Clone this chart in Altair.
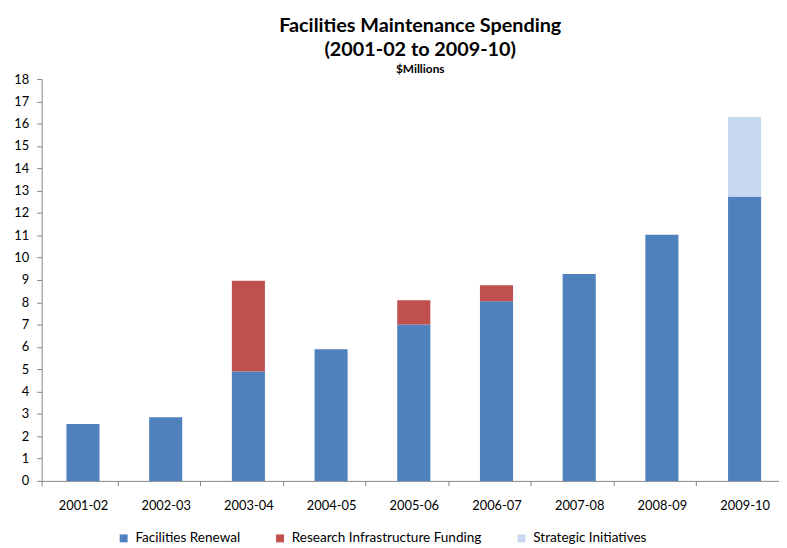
import altair as alt
import pandas as pd

categories = ["2001-02", "2002-03", "2003-04", "2004-05", "2005-06",
              "2006-07", "2007-08", "2008-09", "2009-10"]
series_names = ["Facilities Renewal", "Research Infrastructure Funding", "Strategic Initiatives"]
renewal = [2.55, 2.85, 4.90, 5.90, 7.01, 8.05, 9.27, 11.03, 12.74]
research = [0, 0, 4.06, 0, 1.08, 0.71, 0, 0, 0]
strategic = [0, 0, 0, 0, 0, 0, 0, 0, 3.56]
colors = ["#4F81BD", "#C0504D", "#C6D9F1"]
y_ticks = list(range(0, 19))

rows = []
for i, c in enumerate(categories):
    for k, (name, vals) in enumerate(zip(series_names, [renewal, research, strategic])):
        if vals[i] > 0:
            rows.append({"year": c, "series": name, "value": vals[i], "order": k})
df = pd.DataFrame(rows)

FONT = "Lato"

chart = alt.Chart(df).mark_bar(width=alt.RelativeBandSize(0.4367), xOffset=3.5).encode(
    x=alt.X("year:N", sort=categories, title=None,
            scale=alt.Scale(paddingInner=0.084, paddingOuter=0, align=0),
            axis=alt.Axis(tickBand="extent", labelAngle=0, labelFontSize=13,
                          labelColor="#000000", labelFont=FONT, labelPadding=14,
                          labelOffset=3.5,
                          domainColor="#868686", tickColor="#868686", tickSize=5,
                          labelFlush=False)),
    y=alt.Y("value:Q", stack="zero", title=None,
            scale=alt.Scale(domain=[0, 18], nice=False),
            axis=alt.Axis(values=y_ticks, grid=False, labelFontSize=13,
                          labelColor="#000000", labelFont=FONT, labelPadding=8,
                          domainColor="#868686", tickColor="#868686", tickSize=5)),
    color=alt.Color("series:N",
                    scale=alt.Scale(domain=series_names, range=colors),
                    legend=alt.Legend(title=None, orient="none", direction="horizontal",
                                      legendX=76, legendY=457, symbolType="square",
                                      symbolSize=64, symbolStrokeWidth=0,
                                      labelFontSize=13.7, labelFont=FONT,
                                      labelColor="#000000", columnPadding=33,
                                      labelOffset=5, labelLimit=400)),
    order=alt.Order("order:Q"),
).properties(
    width=745,
    height=406,
    autosize=alt.AutoSizeParams(type="none"),
    padding={"left": 34, "top": 69, "right": 0, "bottom": 65},
    title=alt.TitleParams(
        text=["Facilities Maintenance Spending", "(2001-02 to 2009-10)"],
        subtitle="$Millions",
        font=FONT, fontSize=20, fontWeight="bold", color="#000000",
        lineHeight=25, subtitleFont=FONT, subtitleFontSize=12,
        subtitleFontWeight="bold", subtitleColor="#000000",
        subtitlePadding=4, anchor="middle", dx=10, offset=-2,
    ),
).configure_view(stroke=None)

chart.save("out.html", embed_options={"renderer": "svg", "actions": False})
